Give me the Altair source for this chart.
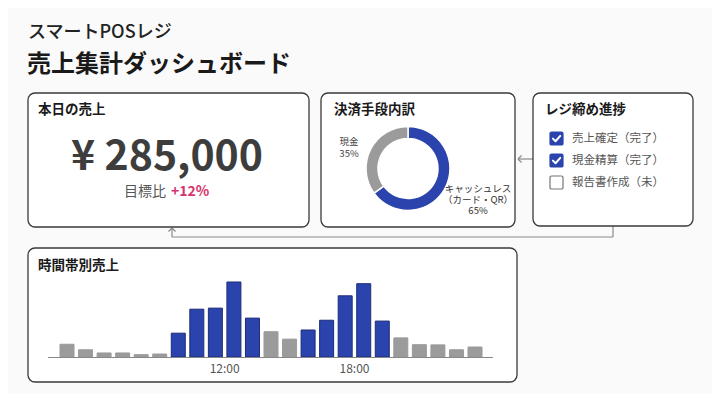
import altair as alt
import pandas as pd

# ---------------- data ----------------
hour_slots = list(range(23))
sales_k = [6.0, 3.4, 1.9, 1.9, 1.1, 1.4, 11.2, 22.5, 23.0, 35.3, 18.3, 11.9,
           8.4, 12.7, 17.3, 28.8, 34.5, 16.9, 9.0, 5.8, 5.7, 3.4, 4.7]
peak_flags = [0, 0, 0, 0, 0, 0, 1, 1, 1, 1, 1, 0, 0, 1, 1, 1, 1, 1, 0, 0, 0, 0, 0]
tick_pos = [8.5, 15.5]
tick_labels = ["12:00", "18:00"]

pay_methods = ["キャッシュレス", "現金"]
pay_share = [65, 35]

check_items = ["売上確定（完了）", "現金精算（完了）", "報告書作成（未）"]
check_state = ["done", "done", "todo"]

total_sales = "¥ 285,000"
vs_target = "+12%"

# ---------------- style ----------------
JP = "Noto Sans CJK JP"
BLUE = "#2b44ad"
BLUE_EDGE = "#1c2c78"
GRAY = "#9b9b9b"
PINK = "#d6336c"
FRAME = "#3a3a3a"
LINK = "#8a8a8a"
O = 8  # page margin offset

ONE = alt.Data(values=[{"a": 1}])


def panel(x1, y1, x2, y2):
    return alt.Chart(ONE).mark_rect(
        fill="white", stroke=FRAME, strokeWidth=1.3, cornerRadius=7
    ).encode(x=alt.value(x1 - O), x2=alt.value(x2 - O),
             y=alt.value(y1 - O), y2=alt.value(y2 - O))


def line(x1, y1, x2, y2, color=LINK, w=1.2):
    return alt.Chart(ONE).mark_rule(color=color, strokeWidth=w).encode(
        x=alt.value(x1 - O), y=alt.value(y1 - O),
        x2=alt.value(x2 - O), y2=alt.value(y2 - O))


def text(s, x, y, size, color="#222", weight="normal", align="left",
         baseline="middle", font=JP, line_height=None):
    kw = {}
    if line_height is not None:
        kw["lineHeight"] = line_height
    return alt.Chart(ONE).mark_text(
        text=s, fontSize=size, color=color, fontWeight=weight,
        align=align, baseline=baseline, font=font, **kw
    ).encode(x=alt.value(x - O), y=alt.value(y - O))


layers = []

# titles
layers.append(text("スマートPOSレジ", 28, 33, 18, "#222", 500))
layers.append(text("売上集計ダッシュボード", 27, 65, 24, "#1a1a1a", "bold"))

# connectors (drawn below panels)
layers.append(line(613, 226, 613, 237))
layers.append(line(613, 237, 172, 237))
layers.append(line(172, 237, 172, 228))
layers.append(line(172, 228, 168.5, 231.5))
layers.append(line(172, 228, 175.5, 231.5))
layers.append(line(533, 159, 518, 159))
layers.append(line(518, 159, 521.5, 155.5))
layers.append(line(518, 159, 521.5, 162.5))

# panels
layers.append(panel(28, 93, 309, 227))
layers.append(panel(321, 93, 515, 227))
layers.append(panel(533, 93, 693, 226))
layers.append(panel(28, 248, 517, 382))

# panel 1: today's sales
layers.append(text("本日の売上", 38, 110, 13.5, "#1a1a1a", "bold"))
layers.append(text(total_sales, 167, 170, 41, "#3d3d3d", "bold",
                   align="center", baseline="alphabetic"))
layers.append(text("目標比", 166, 196, 14, "#555", "normal",
                   align="right", baseline="alphabetic"))
layers.append(text(vs_target, 171, 196, 14, PINK, "bold",
                   align="left", baseline="alphabetic"))

# panel 2: payment donut
layers.append(text("決済手段内訳", 334, 110, 13.5, "#1a1a1a", "bold"))
pay_df = pd.DataFrame({"method": pay_methods, "share": pay_share,
                       "ord": list(range(len(pay_methods)))})
donut = alt.Chart(pay_df).mark_arc(
    innerRadius=30, outerRadius=42, stroke="white", strokeWidth=1.5
).encode(
    theta=alt.Theta("share:Q", stack=True),
    order=alt.Order("ord:Q"),
    fill=alt.Fill("method:N", scale=alt.Scale(domain=pay_methods, range=[BLUE, GRAY]),
                  legend=None),
    x=alt.value(408 - O), y=alt.value(168.5 - O),
)
layers.append(donut)
layers.append(text([pay_methods[1], f"{pay_share[1]}%"], 349, 137, 9.5, "#444",
                   align="center", baseline="top", line_height=11.5))
layers.append(text([pay_methods[0], "（カード・QR）", f"{pay_share[0]}%"], 478, 183.5, 9.5,
                   "#333", align="center", baseline="top", line_height=11))

# panel 3: checklist
layers.append(text("レジ締め進捗", 545, 110, 13.5, "#1a1a1a", "bold"))
chk_df = pd.DataFrame({"item": check_items, "state": check_state})
cy = alt.Y("item:N", axis=None,
           scale=alt.Scale(type="point", domain=check_items,
                           range=[138.5 - O, 182.5 - O], padding=0))
ROUNDSQ = ("M -0.75 -1 L 0.75 -1 Q 1 -1 1 -0.75 L 1 0.75 Q 1 1 0.75 1 "
           "L -0.75 1 Q -1 1 -1 0.75 L -1 -0.75 Q -1 -1 -0.75 -1 Z")
CHECK = "M -0.55 0.02 L -0.15 0.42 L 0.58 -0.4"
boxes = alt.Chart(chk_df).mark_point(
    shape=ROUNDSQ, size=169, filled=True, strokeWidth=1.2, opacity=1
).encode(
    x=alt.value(556.5 - O), y=cy,
    fill=alt.Fill("state:N", scale=alt.Scale(domain=["done", "todo"], range=[BLUE, "white"]),
                  legend=None),
    stroke=alt.Stroke("state:N", scale=alt.Scale(domain=["done", "todo"], range=[BLUE, "#777"]),
                      legend=None),
)
ticks_chk = alt.Chart(chk_df).transform_filter("datum.state == 'done'").mark_point(
    shape=CHECK, size=169, filled=False, stroke="white", strokeWidth=2,
    opacity=1, strokeCap="round", strokeJoin="round"
).encode(x=alt.value(556.5 - O), y=cy)
chk_labels = alt.Chart(chk_df).mark_text(
    align="left", baseline="middle", fontSize=11.5, color="#555", font=JP
).encode(x=alt.value(572 - O), y=cy, text="item:N")
layers.append(alt.layer(boxes, ticks_chk, chk_labels))

# panel 4: hourly sales bars
layers.append(text("時間帯別売上", 38, 266, 13.5, "#1a1a1a", "bold"))
bar_df = pd.DataFrame({"slot": hour_slots, "sales": sales_k,
                       "kind": ["peak" if p else "off" for p in peak_flags]})
xs = alt.Scale(domain=[0, 22], range=[62 - O, 480 - O], nice=False, zero=False)
ys = alt.Scale(domain=[0, 40], range=[357 - O, 272 - O], nice=False, zero=True)
bars = alt.Chart(bar_df).mark_bar(size=14, strokeWidth=1).encode(
    x=alt.X("slot:Q", scale=xs, axis=None),
    y=alt.Y("sales:Q", scale=ys, axis=None),
    fill=alt.Fill("kind:N", scale=alt.Scale(domain=["peak", "off"], range=[BLUE, GRAY]),
                  legend=None),
    stroke=alt.Stroke("kind:N", scale=alt.Scale(domain=["peak", "off"], range=[BLUE_EDGE, GRAY]),
                      legend=None),
)
tick_df = pd.DataFrame({"pos": tick_pos, "label": tick_labels})
tick_text = alt.Chart(tick_df).mark_text(
    fontSize=12, color="#555", baseline="middle", font=JP
).encode(x=alt.X("pos:Q", scale=xs, axis=None), y=alt.value(369 - O), text="label:N")
layers.append(alt.layer(bars, tick_text))
layers.append(line(48, 357.5, 493, 357.5, "#888", 1))

chart = alt.layer(*layers).resolve_scale(
    x="independent", y="independent", fill="independent",
    stroke="independent", theta="independent"
).properties(
    width=704, height=386, padding=0,
    autosize=alt.AutoSizeParams(type="none"),
    background="#fafafa",
).configure_view(stroke=None)

chart.save("out.html", embed_options={"renderer": "svg", "actions": False})
